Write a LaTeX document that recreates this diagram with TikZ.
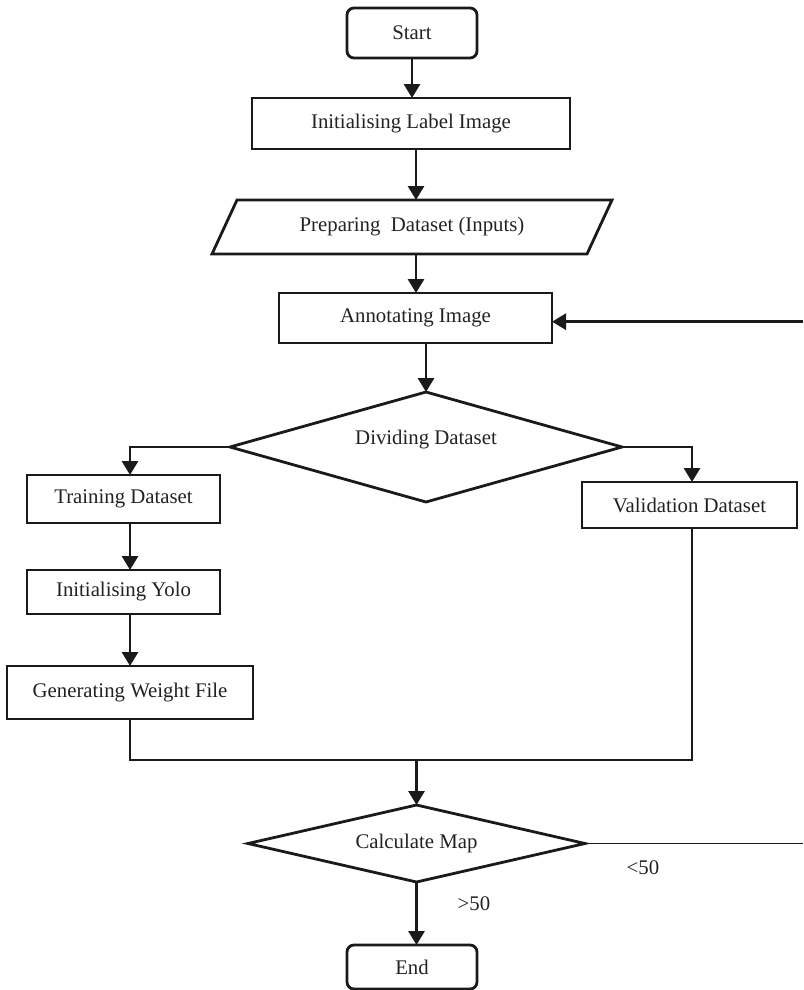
\documentclass[tikz,border=0pt]{standalone}
\usepackage{fontspec}
\setmainfont{Liberation Serif}
\usetikzlibrary{shapes.geometric,arrows.meta}
\definecolor{lc}{HTML}{1A1A1A}
\definecolor{tc}{HTML}{222222}
\begin{document}
\begin{tikzpicture}[x=1pt,y=1pt,
  font=\fontsize{20.8}{24}\selectfont,
  box/.style={draw=lc,line width=2.8pt,inner sep=0pt,outer sep=0pt,text=tc},
  rbox/.style={box,rounded corners=7pt},
  dia/.style={draw=lc,line width=2.8pt,shape=diamond,inner sep=0pt,outer sep=0pt},
  txt/.style={text=tc,inner sep=0pt,outer sep=0pt},
  arr/.style={draw=lc,line width=2.9pt,-{Triangle[length=14pt,width=16pt]}},
  thinline/.style={draw=lc,line width=1.2pt}
]
\useasboundingbox (0,0) rectangle (803,-990);

\node[rbox,minimum width=130,minimum height=50] (start) at (412,-33) {Start};
\node[box,minimum width=318,minimum height=51] (init) at (411,-123.5) {Initialising Label Image};
\node[txt,minimum width=375,minimum height=54] (prep) at (412,-227) {Preparing\ \ Dataset (Inputs)};
\draw[draw=lc,line width=2.8pt] ([xshift=-12.5]prep.south west) -- ([xshift=12.5]prep.north west)
  -- ([xshift=12.5]prep.north east) -- ([xshift=-12.5]prep.south east) -- cycle;
\node[box,minimum width=273,minimum height=50] (annot) at (415.5,-318) {Annotating Image};
\node[dia,minimum width=392,minimum height=110] (div) at (426,-447) {};
\node[txt] (divt) at (426,-440) {Dividing Dataset};
\node[box,minimum width=193,minimum height=48] (train) at (123.5,-499) {Training Dataset};
\node[box,minimum width=193,minimum height=44] (yolo) at (123.5,-592) {Initialising Yolo};
\node[box,minimum width=246,minimum height=53] (gen) at (130,-692.5) {Generating Weight File};
\node[box,minimum width=215,minimum height=46] (valid) at (689.5,-505) {Validation Dataset};
\node[dia,minimum width=337,minimum height=77] (calc) at (416.5,-843.5) {};
\node[txt] (calct) at (416.5,-843.5) {Calculate Map};
\node[rbox,minimum width=130,minimum height=44] (end) at (412,-967) {End};
\node[txt] (lt) at (643,-868) {<50};
\node[txt] (gt) at (474,-904) {>50};

\coordinate (bus) at (416.5,-760);
\coordinate (r1) at (803,-843.5);
\coordinate (r2) at (803,-321.7);

\draw[arr] (start.south) -- (start.south |- init.north);
\draw[arr] ([xshift=5]init.south) -- ([xshift=5]init.south |- prep.north);
\draw[arr] ([xshift=4]prep.south) -- ([xshift=4]prep.south |- annot.north);
\draw[arr] (annot.south -| div.north) -- (div.north);
\draw[arr] (div.west) -| ([xshift=6.5]train.north);
\draw[arr] (div.east) -| ([xshift=2.5]valid.north);
\draw[arr] ([xshift=6.5]train.south) -- ([xshift=6.5]train.south |- yolo.north);
\draw[arr] ([xshift=6.5]yolo.south) -- ([xshift=6.5]yolo.south |- gen.north);
\draw[thinline] (gen.south) |- (bus) -| ([xshift=2.5]valid.south);
\draw[arr] (bus) -- (calc.north);
\draw[thinline] (calc.east) -- (r1);
\draw[arr] (r2) -- (annot.east |- r2);
\draw[arr] (calc.south) -- (calc.south |- end.north);
\end{tikzpicture}
\end{document}
